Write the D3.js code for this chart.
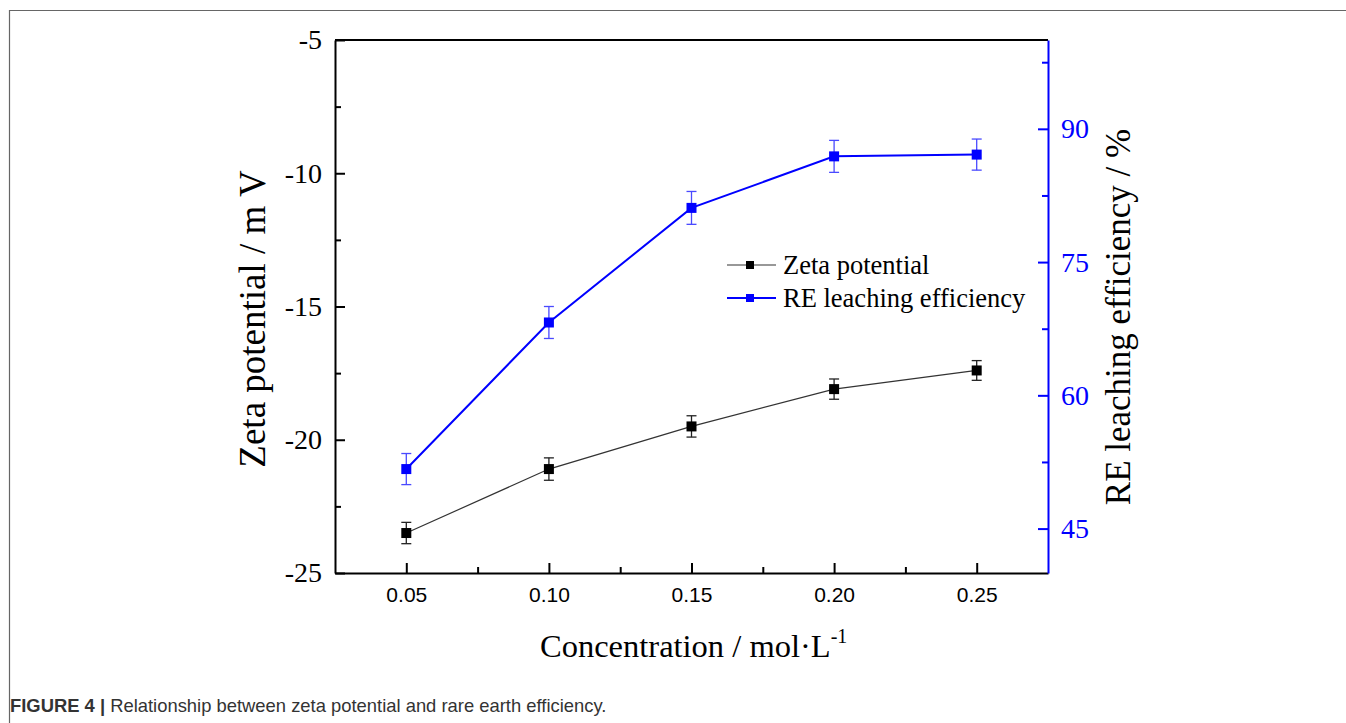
<!DOCTYPE html>
<html><head><meta charset="utf-8">
<script src="https://cdn.jsdelivr.net/npm/d3@7"></script>
<style>body{margin:0;background:#fff;} svg{display:block;}</style>
</head><body>
<svg id="c" width="1346" height="723"></svg>
<script>
const concentrations = [0.05, 0.10, 0.15, 0.20, 0.25];
const zetaValues = [-23.5, -21.1, -19.5, -18.1, -17.4];
const zetaErrors = [0.4, 0.42, 0.4, 0.38, 0.37];
const reValues = [51.7, 68.2, 81.1, 86.9, 87.1];
const reErrors = [1.75, 1.8, 1.85, 1.8, 1.75];
const xTicks = [0.05, 0.10, 0.15, 0.20, 0.25];
const leftTicks = [-25, -20, -15, -10, -5];
const rightTicks = [45, 60, 75, 90];

const svg = d3.select("#c");
const L = 335, R = 1048, T = 40, B = 573;
const blue = "#0000ff";
const serif = "'Liberation Serif','Times New Roman',serif";
const sans = "'Liberation Sans',Arial,sans-serif";

// figure frame
svg.append("path").attr("d", "M9.5,723 V10.5 H1346").attr("fill","none").attr("stroke","#666").attr("stroke-width",1.2);

const x = d3.scaleLinear().domain([0.025, 0.275]).range([L, R]);
const yL = d3.scaleLinear().domain([-25, -5]).range([B, T]);
const yR = d3.scaleLinear().domain([40, 100]).range([B, T]);

// bottom axis
const gx = svg.append("g").attr("transform", `translate(0,${B})`);
gx.call(d3.axisBottom(x).tickValues(xTicks).tickFormat(d3.format(".2f")).tickSizeInner(-10).tickSizeOuter(0).tickPadding(14));
gx.append("g").call(d3.axisBottom(x).tickValues([0.075,0.125,0.175,0.225]).tickFormat("").tickSizeInner(-6).tickSizeOuter(0)).select(".domain").remove();
gx.selectAll("text").attr("font-family", sans).attr("font-size", 21).attr("fill","#000");
gx.selectAll("line,path").attr("stroke","#000").attr("stroke-width",2);

// left axis
const gl = svg.append("g").attr("transform", `translate(${L},0)`);
gl.call(d3.axisLeft(yL).tickValues(leftTicks).tickFormat(d => String(d)).tickSizeInner(-10).tickSizeOuter(0).tickPadding(13));
gl.append("g").call(d3.axisLeft(yL).tickValues([-22.5,-17.5,-12.5,-7.5]).tickFormat("").tickSizeInner(-6).tickSizeOuter(0)).select(".domain").remove();
gl.selectAll("text").attr("font-family", serif).attr("font-size", 28).attr("fill","#000");
gl.selectAll("line,path").attr("stroke","#000").attr("stroke-width",2);

// top line
svg.append("line").attr("x1",L).attr("x2",R).attr("y1",T).attr("y2",T).attr("stroke","#000").attr("stroke-width",2);

// right axis
const gr = svg.append("g").attr("transform", `translate(${R},0)`);
gr.call(d3.axisRight(yR).tickValues(rightTicks).tickFormat(d => String(d)).tickSizeInner(-10).tickSizeOuter(0).tickPadding(13));
gr.append("g").call(d3.axisRight(yR).tickValues([52.5,67.5,82.5,97.5]).tickFormat("").tickSizeInner(-6).tickSizeOuter(0)).select(".domain").remove();
gr.selectAll("text").attr("font-family", serif).attr("font-size", 28).attr("fill",blue);
gr.selectAll("line,path").attr("stroke",blue).attr("stroke-width",2);

// axis titles
svg.append("text").attr("transform", `translate(265,319) rotate(-90)`).attr("text-anchor","middle")
  .attr("font-family", serif).attr("font-size", 37).text("Zeta potential / m V");
svg.append("text").attr("transform", `translate(1130,317) rotate(-90)`).attr("text-anchor","middle")
  .attr("font-family", serif).attr("font-size", 35).text("RE leaching efficiency / %");
const xt = svg.append("text").attr("x", 540).attr("y", 657).attr("text-anchor","start").attr("font-family", serif).attr("font-size", 32.5);
xt.append("tspan").text("Concentration / mol·L");
xt.append("tspan").attr("dy", -14).attr("font-size", 20).text("-1");

function drawSeries(vals, errs, y, color, mk, lineW, errColor) {
  const pts = concentrations.map((c,i)=>({c, v: vals[i], e: errs[i]}));
  svg.append("path").datum(pts).attr("fill","none").attr("stroke",color).attr("stroke-width",lineW)
    .attr("d", d3.line().x(d=>x(d.c)).y(d=>y(d.v)));
  const g = svg.append("g").attr("stroke", errColor).attr("stroke-width",1.3);
  pts.forEach(d=>{
    const cx = x(d.c), y1 = y(d.v + d.e), y2 = y(d.v - d.e);
    g.append("line").attr("x1",cx).attr("x2",cx).attr("y1",y1).attr("y2",y2);
    g.append("line").attr("x1",cx-5).attr("x2",cx+5).attr("y1",y1).attr("y2",y1);
    g.append("line").attr("x1",cx-5).attr("x2",cx+5).attr("y1",y2).attr("y2",y2);
  });
  svg.append("g").selectAll("rect").data(pts).join("rect")
    .attr("x", d=>x(d.c)-5).attr("y", d=>y(d.v)-5).attr("width",10).attr("height",10).attr("fill", mk);
}
drawSeries(zetaValues, zetaErrors, yL, "#333", "#000", 1.2, "#222");
drawSeries(reValues, reErrors, yR, blue, blue, 2, "#4a4aff");

// legend
const legend = [{name:"Zeta potential", color:"#333", mk:"#000", w:1.2, y:265},
                {name:"RE leaching efficiency", color:blue, mk:blue, w:2, y:298}];
legend.forEach(d=>{
  svg.append("line").attr("x1",727).attr("x2",776).attr("y1",d.y).attr("y2",d.y).attr("stroke",d.color).attr("stroke-width",d.w);
  svg.append("rect").attr("x",746).attr("y",d.y-4).attr("width",8).attr("height",8).attr("fill",d.mk);
  svg.append("text").attr("x",783).attr("y",d.y+9).attr("font-family",serif).attr("font-size",26.5).text(d.name);
});

// caption
const cap = svg.append("text").attr("x",10).attr("y",712).attr("font-family",sans).attr("font-size",18.4).attr("fill","#333");
cap.append("tspan").attr("font-weight","bold").text("FIGURE 4 | ");
cap.append("tspan").text("Relationship between zeta potential and rare earth efficiency.");
</script>
</body></html>
